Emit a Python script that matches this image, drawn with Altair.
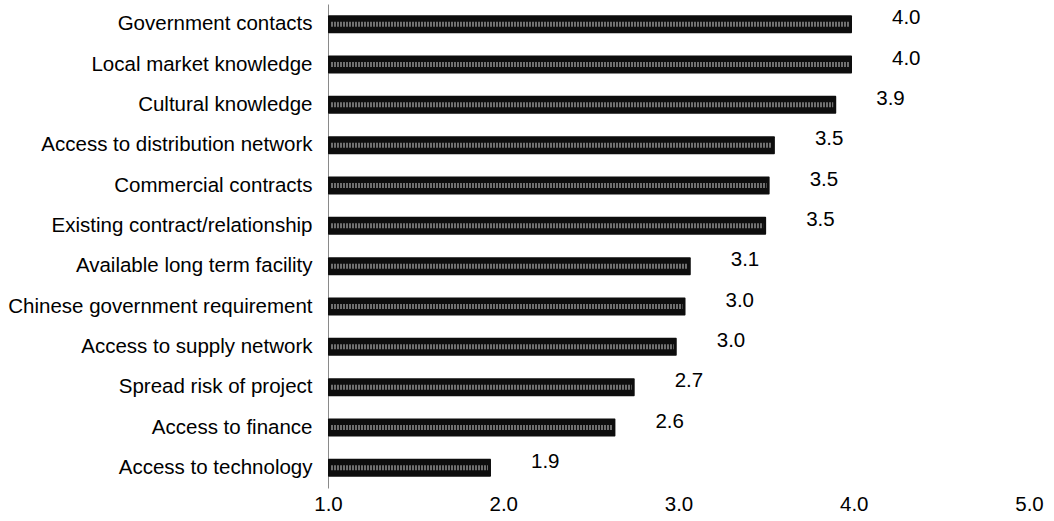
import altair as alt
import pandas as pd

categories = [
    "Government contacts",
    "Local market knowledge",
    "Cultural knowledge",
    "Access to distribution network",
    "Commercial contracts",
    "Existing contract/relationship",
    "Available long term facility",
    "Chinese government requirement",
    "Access to supply network",
    "Spread risk of project",
    "Access to finance",
    "Access to technology",
]
values = [3.99, 3.99, 3.90, 3.55, 3.52, 3.50, 3.07, 3.04, 2.99, 2.75, 2.64, 1.93]
labels = ["4.0", "4.0", "3.9", "3.5", "3.5", "3.5", "3.1", "3.0", "3.0", "2.7", "2.6", "1.9"]
x_ticks = [1.0, 2.0, 3.0, 4.0, 5.0]

df = pd.DataFrame({"category": categories, "value": values, "label": labels, "base": [1.0] * len(categories)})

FONT = "Liberation Sans"
FS = 20.5

y_enc = alt.Y(
    "category:N",
    sort=categories,
    scale=alt.Scale(paddingInner=0, paddingOuter=0),
    axis=alt.Axis(
        title=None,
        ticks=False,
        domain=True,
        domainColor="#8a8a8a",
        domainWidth=1,
        labelFont=FONT,
        labelFontSize=FS,
        labelColor="#000000",
        labelPadding=16,
        labelLimit=400,
        grid=False,
    ),
)
x_enc = alt.X(
    "base:Q",
    scale=alt.Scale(domain=[1, 5], nice=False, zero=False),
    axis=alt.Axis(
        title=None,
        values=x_ticks,
        format=".1f",
        ticks=False,
        domain=False,
        grid=False,
        labelFont=FONT,
        labelFontSize=FS,
        labelColor="#000000",
        labelPadding=6,
        labelFlush=False,
    ),
)

bars = alt.Chart(df).mark_bar(size=18, color="#0d0d0d", cornerRadius=1).encode(
    y=y_enc, x=x_enc, x2="value:Q"
)
inner = alt.Chart(df).mark_rule(
    color="#6f6f6f", strokeWidth=5, strokeDash=[2, 1], xOffset=3, x2Offset=-3
).encode(y=alt.Y("category:N", sort=categories), x="base:Q", x2="value:Q")
text = alt.Chart(df).mark_text(
    align="left", baseline="middle", dx=40, dy=-6, font=FONT, fontSize=FS, color="#000000"
).encode(y=alt.Y("category:N", sort=categories), x="value:Q", text="label:N")

chart = (
    alt.layer(bars, inner, text)
    .properties(width=701, height=484, background="white",
                autosize=alt.AutoSizeParams(type="none"),
                padding={"left": 328, "top": 4, "right": 25, "bottom": 33})
    .configure_view(stroke=None, strokeWidth=0)
)

chart.save("out.html", embed_options={"renderer": "svg", "actions": False})
